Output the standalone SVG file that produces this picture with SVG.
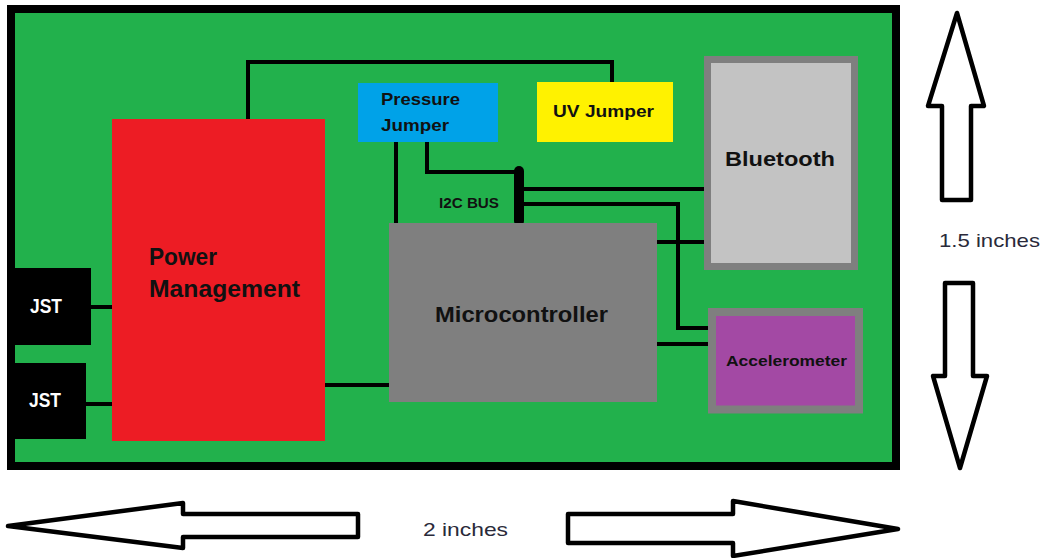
<svg xmlns="http://www.w3.org/2000/svg" width="1045" height="558" viewBox="0 0 1045 558">
<style>
.lbl{font-family:"Liberation Sans",Arial,sans-serif;font-weight:bold;fill:#111}
.dim{font-family:"Liberation Sans",Arial,sans-serif;font-size:19px;fill:#2a2a3a}
.wire{fill:none;stroke:#000;stroke-width:4}
.arrow{fill:#fff;stroke:#000;stroke-width:4.5;stroke-linejoin:round}
</style>
<rect width="1045" height="558" fill="#fff"/>
<g id="board">
<rect x="11" y="9" width="885" height="457" fill="#22B14C" stroke="#000" stroke-width="8"/>
</g>
<g id="connectors">
<path class="wire" d="M248,120 V62 H612 V83"/>
<path class="wire" d="M91,307 H115"/>
<path class="wire" d="M86,404 H114"/>
<path class="wire" d="M322,385 H393"/>
<path class="wire" d="M396,142 V225"/>
<path class="wire" d="M427,140 V172 H520"/>
<path class="wire" d="M519,189 H708"/>
<path class="wire" d="M519,204 H678 V328 H710"/>
<path class="wire" d="M656,242 H710"/>
<path class="wire" d="M656,344 H710"/>
<line x1="519" y1="171" x2="519" y2="221" stroke="#000" stroke-width="10" stroke-linecap="round"/>
</g>
<g id="power">
<rect x="112" y="119" width="213" height="322" fill="#ED1C24"/>
<text class="lbl" x="149" y="265" font-size="23" textLength="68" lengthAdjust="spacingAndGlyphs">Power</text>
<text class="lbl" x="149" y="297" font-size="23" textLength="151" lengthAdjust="spacingAndGlyphs">Management</text>
</g>
<g id="jst1">
<rect x="7" y="268" width="84" height="77" fill="#000"/>
<text class="lbl" x="30" y="313" font-size="20" style="fill:#fff" textLength="32" lengthAdjust="spacingAndGlyphs">JST</text>
</g>
<g id="jst2">
<rect x="7" y="363" width="79" height="76" fill="#000"/>
<text class="lbl" x="29" y="407" font-size="20" style="fill:#fff" textLength="32" lengthAdjust="spacingAndGlyphs">JST</text>
</g>
<g id="pressure">
<rect x="358" y="83" width="140" height="59" fill="#00A2E8"/>
<text class="lbl" x="381" y="105" font-size="16.5" textLength="79" lengthAdjust="spacingAndGlyphs">Pressure</text>
<text class="lbl" x="381" y="131" font-size="16.5" textLength="68" lengthAdjust="spacingAndGlyphs">Jumper</text>
</g>
<g id="uv">
<rect x="537" y="82" width="136" height="60" fill="#FFF200"/>
<text class="lbl" x="553" y="117" font-size="17" textLength="101" lengthAdjust="spacingAndGlyphs">UV Jumper</text>
</g>
<g id="i2c">
<text class="lbl" x="439" y="208" font-size="14" textLength="60" lengthAdjust="spacingAndGlyphs">I2C BUS</text>
</g>
<g id="bluetooth">
<rect x="707.5" y="59.5" width="147" height="207" fill="#C3C3C3" stroke="#7F7F7F" stroke-width="7"/>
<text class="lbl" x="725" y="166" font-size="21" textLength="110" lengthAdjust="spacingAndGlyphs">Bluetooth</text>
</g>
<g id="microcontroller">
<rect x="389" y="223" width="268" height="179" fill="#7F7F7F"/>
<text class="lbl" x="435" y="322" font-size="22" textLength="173" lengthAdjust="spacingAndGlyphs">Microcontroller</text>
</g>
<g id="accelerometer">
<rect x="712" y="312" width="147" height="97.5" fill="#A349A4" stroke="#7F7F7F" stroke-width="8"/>
<text class="lbl" x="726" y="366" font-size="14.5" textLength="121" lengthAdjust="spacingAndGlyphs">Accelerometer</text>
</g>
<g id="dimensions">
<path class="arrow" d="M957,13 L984,106 H971 V200 H942 V106 H928 Z"/>
<text class="dim" x="939" y="247" textLength="101" lengthAdjust="spacingAndGlyphs">1.5 inches</text>
<path class="arrow" d="M945,283 H973 V376 H987 L960,468 L933,376 H945 Z"/>
<path class="arrow" d="M8,526 L183,503 V514 H358 V537 H183 V548 Z"/>
<text class="dim" x="423" y="536" textLength="85" lengthAdjust="spacingAndGlyphs">2 inches</text>
<path class="arrow" d="M568,514 H733 V501 L898,529 L733,556 V543 H568 Z"/>
</g>
</svg>
